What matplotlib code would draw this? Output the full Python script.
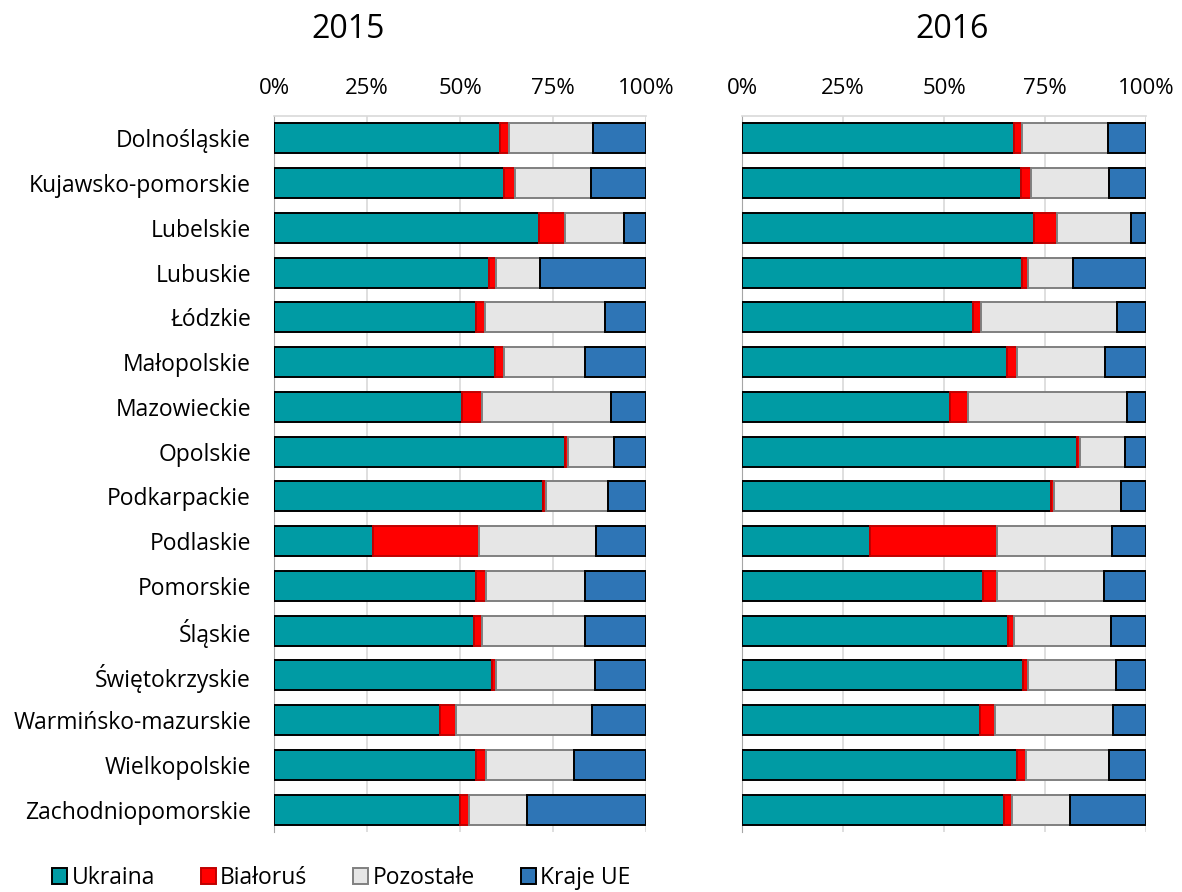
import matplotlib
matplotlib.use("Agg")
import matplotlib.pyplot as plt
from matplotlib.patches import Patch
from matplotlib.ticker import FixedLocator

plt.rcParams['font.family'] = ['Open Sans', 'DejaVu Sans']

regions = ["Dolnośląskie", "Kujawsko-pomorskie", "Lubelskie", "Lubuskie", "Łódzkie",
           "Małopolskie", "Mazowieckie", "Opolskie", "Podkarpackie", "Podlaskie",
           "Pomorskie", "Śląskie", "Świętokrzyskie", "Warmińsko-mazurskie",
           "Wielkopolskie", "Zachodniopomorskie"]

series = ["Ukraina", "Białoruś", "Pozostałe", "Kraje UE"]

ukraina_2015 = [60.8, 61.9, 71.3, 57.7, 54.4, 59.5, 50.6, 78.3, 72.2, 26.7, 54.3, 53.8, 58.5, 44.6, 54.3, 50.1]
bialorus_2015 = [2.4, 2.9, 7.0, 1.9, 2.4, 2.4, 5.3, 0.8, 0.8, 28.3, 2.8, 2.0, 1.3, 4.3, 2.7, 2.3]
pozostale_2015 = [22.5, 20.3, 15.7, 11.9, 32.3, 21.8, 34.8, 12.3, 16.8, 31.5, 26.5, 27.8, 26.5, 36.7, 23.6, 15.7]
ue_2015 = [14.3, 14.9, 6.0, 28.5, 10.9, 16.3, 9.3, 8.6, 10.2, 13.5, 16.4, 16.4, 13.7, 14.4, 19.4, 31.9]

ukraina_2016 = [67.3, 69.0, 72.3, 69.4, 57.2, 65.5, 51.4, 83.0, 76.5, 31.8, 59.7, 65.8, 69.6, 58.9, 68.1, 64.8]
bialorus_2016 = [1.9, 2.5, 5.7, 1.5, 1.9, 2.5, 4.5, 0.7, 0.8, 31.3, 3.4, 1.5, 1.1, 3.6, 2.1, 2.0]
pozostale_2016 = [21.5, 19.4, 18.3, 11.0, 33.8, 21.9, 39.3, 11.2, 16.6, 28.6, 26.6, 24.0, 21.8, 29.3, 20.6, 14.5]
ue_2016 = [9.3, 9.1, 3.7, 18.1, 7.1, 10.1, 4.8, 5.1, 6.1, 8.3, 10.3, 8.7, 7.5, 8.2, 9.2, 18.7]

years = ["2015", "2016"]
ticks = [0, 25, 50, 75, 100]
tick_labels = ["0%", "25%", "50%", "75%", "100%"]

fills = ["#009BA4", "#FF0000", "#E6E6E6", "#2E75B6"]
edges = ["#000000", "#C00000", "#808080", "#000000"]

fig = plt.figure(figsize=(11.82, 8.92), dpi=100)
W, H = 1182, 892
ax_top, ax_bot = 116, 832
axes_px = [(274, 646), (742, 1146)]
title_x = [348, 952]
data = [[ukraina_2015, bialorus_2015, pozostale_2015, ue_2015],
        [ukraina_2016, bialorus_2016, pozostale_2016, ue_2016]]

ypos = list(range(len(regions)))
for i, ((x0, x1), vals) in enumerate(zip(axes_px, data)):
    ax = fig.add_axes([x0 / W, 1 - ax_bot / H, (x1 - x0) / W, (ax_bot - ax_top) / H])
    left = [0.0] * len(regions)
    for s, v in enumerate(vals):
        ax.barh(ypos, v, left=left, height=0.67, color=fills[s], edgecolor=edges[s],
                linewidth=1.4, zorder=3)
        left = [a + b for a, b in zip(left, v)]
    ax.set_xlim(0, 100)
    ax.set_ylim(len(regions) - 0.5, -0.5)
    ax.xaxis.tick_top()
    ax.xaxis.set_major_locator(FixedLocator(ticks))
    ax.set_xticklabels(tick_labels, fontsize=16)
    ax.tick_params(axis='x', length=0, pad=12)
    ax.grid(axis='x', color='#D9D9D9', linewidth=1.2, zorder=0)
    ax.set_yticks(ypos)
    if i == 0:
        ax.set_yticklabels(regions, fontsize=16.5)
        ax.tick_params(axis='y', length=0, pad=16.5)
    else:
        ax.set_yticklabels([])
        ax.tick_params(axis='y', length=0)
    for sp in ['right', 'bottom']:
        ax.spines[sp].set_visible(False)
    ax.spines['left'].set_color('#A6A6A6')
    ax.spines['top'].set_color('#D9D9D9')
    ax.spines['top'].set_linewidth(1.2)
    fig.text(title_x[i] / W, 1 - 29 / H, years[i], fontsize=23, ha='center', va='center')

handles = [Patch(facecolor=fills[s], edgecolor=edges[s], linewidth=1.4, label=series[s]) for s in range(4)]
fig.legend(handles=handles, loc='center left', bbox_to_anchor=(52 / W, 1 - 878 / H), ncol=4,
           frameon=False, fontsize=16.5, handlelength=0.65, handleheight=0.65, handletextpad=0.2,
           columnspacing=2.0, borderaxespad=0, borderpad=0)

fig.savefig("out.png", dpi=100)
